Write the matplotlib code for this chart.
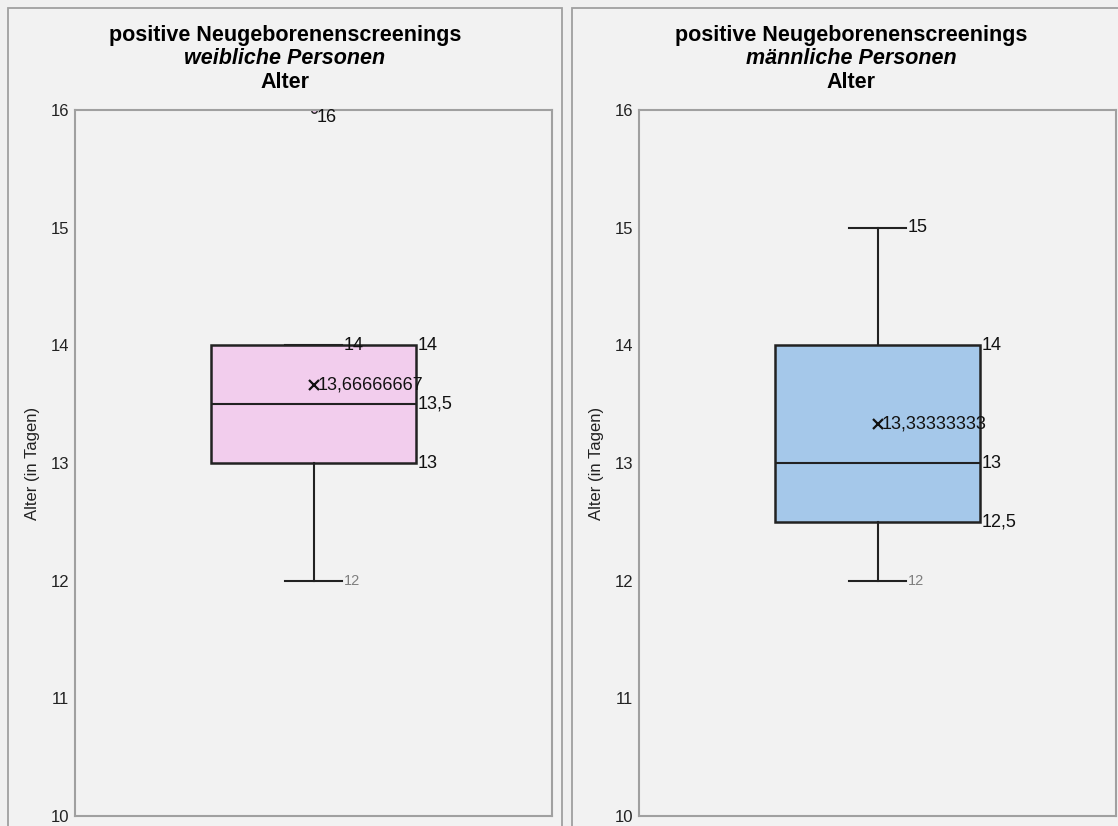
import matplotlib
matplotlib.use("Agg")
import matplotlib.pyplot as plt
from matplotlib.patches import Rectangle

plt.rcParams['font.family'] = ['Liberation Sans', 'DejaVu Sans']

# data
groups = ['weibliche Personen', 'männliche Personen']
q1 = [13, 12.5]
median = [13.5, 13]
q3 = [14, 14]
whis_lo = [12, 12]
whis_hi = [14, 15]
means = [13.66666667, 13.33333333]
fliers = [[16], []]
mean_labels = ['13,66666667', '13,33333333']
box_colors = ['#F2CDED', '#A5C8EA']
yticks = [10, 11, 12, 13, 14, 15, 16]

W, H = 1118, 826
fig = plt.figure(figsize=(W / 100, H / 100), dpi=100)
fig.patch.set_facecolor('#F0F0F0')

def fx(px):
    return px / W

def fy(py):
    return 1 - py / H

def fmt(v):
    return ('%g' % v).replace('.', ',')

# panel frames
for x0, x1 in [(8, 562), (572, 1135)]:
    fig.patches.append(Rectangle((fx(x0), fy(845)), fx(x1 - x0), (845 - 8) / H,
                                 transform=fig.transFigure, fill=True,
                                 facecolor='#F2F2F2', edgecolor='#A0A0A0',
                                 lw=1.3, zorder=-5))

axes_left = [75, 639]
title_cx = [285, 851]

for i in range(2):
    ax = fig.add_axes([fx(axes_left[i]), 10 / H, 477 / W, 706 / H])
    ax.set_zorder(2)
    ax.set_facecolor('#F2F2F2')
    stats = [dict(q1=q1[i], med=median[i], q3=q3[i], whislo=whis_lo[i],
                  whishi=whis_hi[i], mean=means[i], fliers=fliers[i])]
    ax.bxp(stats, positions=[0.5], widths=0.43, showmeans=True, patch_artist=True,
           boxprops=dict(facecolor=box_colors[i], edgecolor='#222222', lw=1.8),
           medianprops=dict(color='#222222', lw=1.5),
           whiskerprops=dict(color='#222222', lw=1.5),
           capprops=dict(color='#222222', lw=1.5), capwidths=0.12,
           meanprops=dict(marker='x', markeredgecolor='#111111', markersize=7, mew=1.6),
           flierprops=dict(marker='o', markerfacecolor=box_colors[i],
                           markeredgecolor='#222222', markersize=4))
    ax.set_xlim(0, 1)
    ax.set_ylim(10, 16)
    ax.set_yticks(yticks)
    ax.set_yticklabels([str(t) for t in yticks])
    ax.set_xticks([])
    ax.tick_params(axis='y', length=0, labelsize=12, pad=4, colors='#222222')
    for sp in ax.spines.values():
        sp.set_color('#A0A0A0')
        sp.set_linewidth(1.5)
    ax.set_ylabel('Alter (in Tagen)', fontsize=12, color='#222222', va='center')
    ax.yaxis.set_label_coords(-0.09, 0.5)

    box_r = 0.5 + 0.215
    cap_r = 0.5 + 0.06
    # box labels
    for v in sorted(set([q1[i], median[i], q3[i]])):
        ax.annotate(fmt(v), (box_r, v), xytext=(1, 0), textcoords='offset points',
                    va='center', ha='left', fontsize=13, color='#111111')
    # upper whisker label
    ax.annotate(fmt(whis_hi[i]), (cap_r, whis_hi[i]), xytext=(1, 0),
                textcoords='offset points', va='center', ha='left',
                fontsize=13, color='#111111')
    # lower whisker label
    ax.annotate(fmt(whis_lo[i]), (cap_r, whis_lo[i]), xytext=(1, 0),
                textcoords='offset points', va='center', ha='left',
                fontsize=10.5, color='#7F7F7F')
    # mean label
    ax.annotate(mean_labels[i], (0.5, means[i]), xytext=(3, 0),
                textcoords='offset points', va='center', ha='left',
                fontsize=13, color='#111111')
    # outliers
    for f in fliers[i]:
        ax.annotate(fmt(f), (0.5, f), xytext=(2, 1), textcoords='offset points',
                    va='top', ha='left', fontsize=13, color='#111111',
                    annotation_clip=False)

    fig.text(fx(title_cx[i]), fy(35), 'positive Neugeborenenscreenings',
             ha='center', va='center', fontsize=15.5, fontweight='bold')
    fig.text(fx(title_cx[i]), fy(58), groups[i], ha='center', va='center',
             fontsize=15.5, fontweight='bold', style='italic')
    fig.text(fx(title_cx[i]), fy(82), 'Alter', ha='center', va='center',
             fontsize=15.5, fontweight='bold')

fig.savefig('out.png', dpi=100, facecolor=fig.get_facecolor())
